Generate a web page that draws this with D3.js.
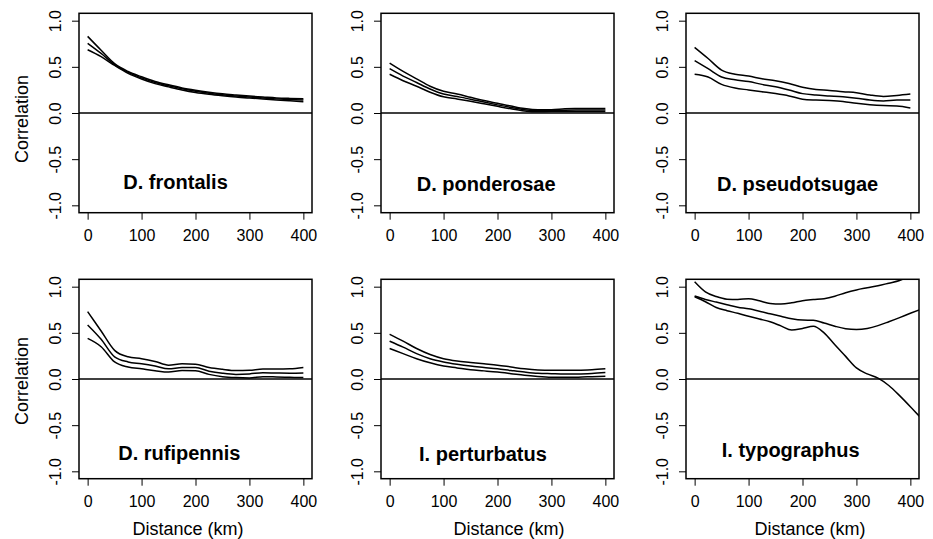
<!DOCTYPE html>
<html>
<head>
<meta charset="utf-8">
<script src="https://cdn.jsdelivr.net/npm/d3@7"></script>
<style>
  body { margin: 0; background: #fff; }
  svg { display: block; font-family: "Liberation Sans", Arial, Helvetica, sans-serif; }
  .curve { fill: none; stroke: #000; stroke-width: 1.5; }
  .frame { fill: none; stroke: #000; stroke-width: 1.5; }
  .zero { stroke: #000; stroke-width: 1.5; }
  .axis path.domain { display: none; }
  .axis line { stroke: #000; stroke-width: 1; }
  .axis text { font-size: 16px; fill: #000; }
  .title { font-size: 20px; font-weight: bold; }
  .lab { font-size: 18px; }
</style>
</head>
<body>
<div id="chart"></div>
<script>
// species names, one per panel (row by row)
var species = ["D. frontalis", "D. ponderosae", "D. pseudotsugae",
               "D. rufipennis", "I. perturbatus", "I. typographus"];

// distance grid (km) the curves were read at
var distance = [0, 25, 50, 75, 100, 125, 150, 175, 200, 225, 250, 275, 300, 325, 350, 375, 400];
var distanceTypo = [0, 20, 40, 60, 80, 100, 120, 140, 160, 180, 200, 220, 240, 260, 280, 300, 320, 340, 360, 380, 400, 420];

// spline correlogram: lower envelope, estimate, upper envelope
var frontalisLow  = [0.685, 0.61, 0.515, 0.43, 0.368, 0.318, 0.283, 0.25, 0.223, 0.203, 0.187, 0.173, 0.162, 0.152, 0.142, 0.132, 0.122];
var frontalisMid  = [0.755, 0.645, 0.525, 0.44, 0.38, 0.33, 0.295, 0.262, 0.235, 0.215, 0.198, 0.185, 0.173, 0.163, 0.153, 0.145, 0.14];
var frontalisHigh = [0.83, 0.68, 0.535, 0.45, 0.392, 0.342, 0.305, 0.272, 0.247, 0.226, 0.208, 0.195, 0.183, 0.173, 0.163, 0.158, 0.155];

var ponderosaeLow  = [0.42, 0.35, 0.29, 0.225, 0.175, 0.152, 0.128, 0.10, 0.072, 0.045, 0.022, 0.013, 0.015, 0.015, 0.015, 0.015, 0.015];
var ponderosaeMid  = [0.48, 0.40, 0.33, 0.26, 0.205, 0.178, 0.15, 0.118, 0.088, 0.06, 0.035, 0.025, 0.025, 0.03, 0.032, 0.033, 0.033];
var ponderosaeHigh = [0.54, 0.45, 0.37, 0.29, 0.235, 0.205, 0.17, 0.135, 0.105, 0.075, 0.048, 0.035, 0.035, 0.045, 0.048, 0.05, 0.05];

var pseudotsugaeLow  = [0.42, 0.39, 0.31, 0.27, 0.25, 0.23, 0.21, 0.185, 0.15, 0.14, 0.135, 0.125, 0.105, 0.09, 0.08, 0.075, 0.055];
var pseudotsugaeMid  = [0.567, 0.48, 0.39, 0.36, 0.34, 0.31, 0.285, 0.25, 0.21, 0.195, 0.185, 0.175, 0.16, 0.14, 0.13, 0.14, 0.14];
var pseudotsugaeHigh = [0.71, 0.59, 0.465, 0.42, 0.40, 0.37, 0.35, 0.32, 0.28, 0.255, 0.245, 0.23, 0.22, 0.195, 0.18, 0.19, 0.205];

var rufipennisLow  = [0.44, 0.35, 0.185, 0.13, 0.11, 0.09, 0.075, 0.092, 0.09, 0.05, 0.025, 0.015, 0.012, 0.025, 0.022, 0.018, 0.015];
var rufipennisMid  = [0.585, 0.43, 0.24, 0.185, 0.165, 0.14, 0.11, 0.125, 0.125, 0.085, 0.062, 0.05, 0.055, 0.068, 0.065, 0.063, 0.065];
var rufipennisHigh = [0.73, 0.52, 0.31, 0.24, 0.22, 0.19, 0.15, 0.165, 0.16, 0.125, 0.105, 0.092, 0.095, 0.108, 0.108, 0.11, 0.125];

var perturbatusLow  = [0.33, 0.275, 0.22, 0.175, 0.14, 0.12, 0.10, 0.088, 0.075, 0.058, 0.04, 0.028, 0.02, 0.018, 0.02, 0.025, 0.03];
var perturbatusMid  = [0.41, 0.345, 0.275, 0.22, 0.185, 0.16, 0.14, 0.125, 0.11, 0.092, 0.075, 0.062, 0.058, 0.055, 0.055, 0.06, 0.07];
var perturbatusHigh = [0.485, 0.41, 0.33, 0.265, 0.22, 0.195, 0.18, 0.165, 0.15, 0.13, 0.11, 0.098, 0.095, 0.095, 0.095, 0.1, 0.11];

var typographusLow  = [0.891, 0.837, 0.775, 0.74, 0.712, 0.68, 0.65, 0.62, 0.575, 0.53, 0.548, 0.572, 0.5, 0.37, 0.245, 0.12, 0.055, 0.01, -0.07, -0.18, -0.30, -0.425];
var typographusMid  = [0.899, 0.862, 0.833, 0.805, 0.778, 0.76, 0.735, 0.707, 0.68, 0.652, 0.638, 0.637, 0.607, 0.572, 0.545, 0.537, 0.548, 0.578, 0.62, 0.665, 0.712, 0.757];
var typographusHigh = [1.054, 0.945, 0.893, 0.865, 0.862, 0.87, 0.847, 0.818, 0.812, 0.825, 0.848, 0.86, 0.87, 0.897, 0.935, 0.965, 0.988, 1.01, 1.038, 1.067, 1.115, 1.16];

// tick labels
var xTicks = [0, 100, 200, 300, 400];
var yTicks = [-1, -0.5, 0, 0.5, 1];

// where each species name sits, in data units (km, correlation)
var titleKm  = [163, 179, 191, 170, 173, 178];
var titleCor = [-0.82, -0.845, -0.845, -0.876, -0.884, -0.848];

var panels = [
  { x: distance, lines: [frontalisLow, frontalisMid, frontalisHigh] },
  { x: distance, lines: [ponderosaeLow, ponderosaeMid, ponderosaeHigh] },
  { x: distance, lines: [pseudotsugaeLow, pseudotsugaeMid, pseudotsugaeHigh] },
  { x: distance, lines: [rufipennisLow, rufipennisMid, rufipennisHigh] },
  { x: distance, lines: [perturbatusLow, perturbatusMid, perturbatusHigh] },
  { x: distanceTypo, lines: [typographusLow, typographusMid, typographusHigh] }
];

var width = 933, height = 539;
var colLeft = [79, 381, 686], rowTop = [13.3, 279.3];
var boxW = 233, boxH = 199.4;

var svg = d3.select("#chart").append("svg")
  .attr("width", width)
  .attr("height", height);

function plotPanel(i) {
  var col = i % 3, row = Math.floor(i / 3);
  var left = colLeft[col], top = rowTop[row];
  var p = panels[i];

  // R style: 4% padding on both ends
  var x = d3.scaleLinear().domain([-16, 416]).range([left, left + boxW]);
  var y = d3.scaleLinear().domain([-1.08, 1.08]).range([top + boxH, top]);

  var clipId = "clip" + i;
  svg.append("clipPath").attr("id", clipId)
    .append("rect")
    .attr("x", left).attr("y", top)
    .attr("width", boxW).attr("height", boxH);

  var line = d3.line()
    .x(function(d) { return x(d[0]); })
    .y(function(d) { return y(d[1]); })
    .curve(d3.curveMonotoneX);

  var g = svg.append("g").attr("clip-path", "url(#" + clipId + ")");
  p.lines.forEach(function(vals) {
    g.append("path")
      .attr("class", "curve")
      .attr("d", line(p.x.map(function(d, k) { return [d, vals[k]]; })));
  });

  // horizontal reference line at zero
  svg.append("line")
    .attr("class", "zero")
    .attr("x1", left).attr("x2", left + boxW)
    .attr("y1", y(0)).attr("y2", y(0));

  svg.append("rect")
    .attr("class", "frame")
    .attr("x", left).attr("y", top)
    .attr("width", boxW).attr("height", boxH);

  // x axis
  svg.append("g")
    .attr("class", "axis")
    .attr("transform", "translate(0," + (top + boxH) + ")")
    .call(d3.axisBottom(x).tickValues(xTicks).tickSize(7).tickPadding(9.5));

  // y axis, labels turned like R's las = 0
  var ya = svg.append("g")
    .attr("class", "axis")
    .attr("transform", "translate(" + left + ",0)")
    .call(d3.axisLeft(y).tickValues(yTicks).tickSize(7)
      .tickFormat(function(d) { return d.toFixed(1); }));
  ya.selectAll("text")
    .attr("x", null).attr("dy", null)
    .attr("text-anchor", "middle")
    .attr("transform", "translate(-18,0) rotate(-90)");

  svg.append("text")
    .attr("class", "title")
    .attr("text-anchor", "middle")
    .attr("x", x(titleKm[i]))
    .attr("y", y(titleCor[i]))
    .text(species[i]);
}

for (var i = 0; i < panels.length; i++) plotPanel(i);

// axis titles
[119, 381].forEach(function(cy) {
  svg.append("text")
    .attr("class", "lab")
    .attr("text-anchor", "middle")
    .attr("transform", "translate(28," + cy + ") rotate(-90)")
    .text("Correlation");
});

[188, 509, 810].forEach(function(cx) {
  svg.append("text")
    .attr("class", "lab")
    .attr("text-anchor", "middle")
    .attr("x", cx).attr("y", 535)
    .text("Distance (km)");
});
</script>
</body>
</html>
